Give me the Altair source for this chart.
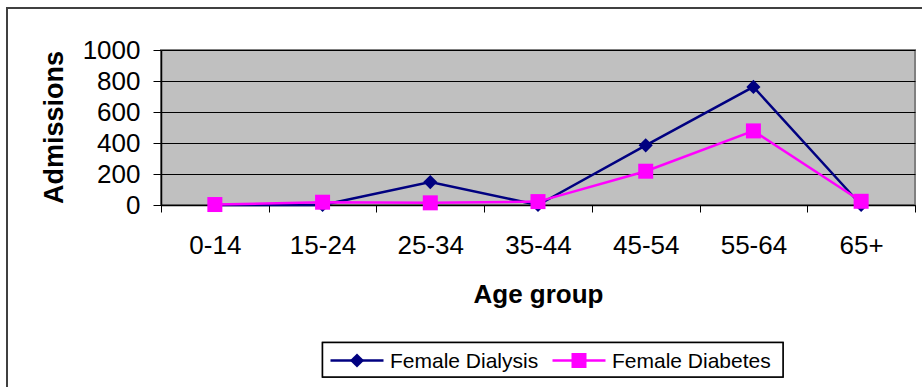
import altair as alt
import pandas as pd

categories = ["0-14", "15-24", "25-34", "35-44", "45-54", "55-64", "65+"]
series_names = ["Female Dialysis", "Female Diabetes"]
dialysis = [0, 0, 148, 0, 385, 762, 0]
diabetes = [3, 18, 14, 22, 218, 478, 24]
y_ticks = [0, 200, 400, 600, 800, 1000]

colors = ["#000080", "#FF00FF"]
shapes = ["diamond", "square"]
FONT = "Liberation Sans"

rows = []
for s, vals in zip(series_names, [dialysis, diabetes]):
    for c, v in zip(categories, vals):
        rows.append({"age": c, "series": s, "value": v})
df = pd.DataFrame(rows)
legend_df = pd.DataFrame({"series": series_names})

color_enc = alt.Color("series:N", scale=alt.Scale(domain=series_names, range=colors), legend=None)

x_enc = alt.X(
    "age:N",
    sort=categories,
    scale=alt.Scale(type="band", domain=categories, paddingInner=0, paddingOuter=0),
    bandPosition=0.5,
    axis=alt.Axis(
        title="Age group",
        tickBand="extent",
        tickSize=7,
        tickColor="black",
        domainColor="black",
        domainWidth=1.5,
        labelAngle=0,
        labelFont=FONT,
        labelFontSize=26,
        labelColor="black",
        labelBaseline="alphabetic",
        labelPadding=41,
        titleFont=FONT,
        titleFontSize=26,
        titleFontWeight="bold",
        titleColor="black",
        titleBaseline="alphabetic",
        titleY=97,
        grid=False,
    ),
)
y_enc = alt.Y(
    "value:Q",
    scale=alt.Scale(domain=[0, 1000], nice=False, zero=True),
    axis=alt.Axis(
        title="Admissions",
        values=y_ticks,
        format="d",
        grid=True,
        gridColor="black",
        gridWidth=1,
        tickSize=8,
        tickColor="black",
        domainColor="black",
        domainWidth=1.5,
        labelFont=FONT,
        labelFontSize=26,
        labelColor="black",
        labelPadding=13,
        titleFont=FONT,
        titleFontSize=27,
        titleFontWeight="bold",
        titleColor="black",
        titleBaseline="alphabetic",
        titleX=-99,
        titleY=77,
    ),
)

outer = alt.Chart(legend_df).mark_rect(
    fill=None, stroke="#404040", strokeWidth=2
).encode(
    x=alt.value(-154), x2=alt.value(775), y=alt.value(-42), y2=alt.value(350)
)

lines = alt.Chart(df).mark_line(strokeWidth=2.5).encode(
    x=x_enc, y=y_enc, color=color_enc, detail="series:N",
)
points = alt.Chart(df).mark_point(filled=True, opacity=1).encode(
    x=x_enc, y=y_enc, color=color_enc,
    shape=alt.Shape("series:N", scale=alt.Scale(domain=series_names, range=shapes), legend=None),
    size=alt.Size("series:N", scale=alt.Scale(domain=series_names, range=[200, 225]), legend=None),
)

leg_x = alt.X(
    "series:N",
    scale=alt.Scale(type="point", domain=series_names, range=[196, 418], padding=0),
    axis=None,
)

leg_box = alt.Chart(legend_df).mark_rect(
    fill="white", stroke="black", strokeWidth=1.5
).encode(
    x=alt.value(161.5), x2=alt.value(622), y=alt.value(292.5), y2=alt.value(327)
)
leg_line = alt.Chart(legend_df).mark_point(
    shape="M-1,0L1,0", size=2809, strokeWidth=2.5, filled=False, opacity=1
).encode(x=leg_x, y=alt.value(310.5), color=color_enc)
leg_mark = alt.Chart(legend_df).mark_point(filled=True, opacity=1).encode(
    x=leg_x, y=alt.value(310.5), color=color_enc,
    shape=alt.Shape("series:N", scale=alt.Scale(domain=series_names, range=shapes), legend=None),
    size=alt.Size("series:N", scale=alt.Scale(domain=series_names, range=[180, 196]), legend=None),
)
leg_text = alt.Chart(legend_df).mark_text(
    align="left", baseline="alphabetic", dx=33, font=FONT, fontSize=21, color="black"
).encode(x=leg_x, y=alt.value(318), text="series:N")

main = alt.layer(lines, points)
legend = alt.layer(leg_box, leg_line, leg_mark, leg_text)

chart = alt.layer(outer, main, legend).resolve_scale(x="independent").properties(
    width=754,
    height=155,
    autosize=alt.AutoSizeParams(type="none"),
    padding={"left": 161, "top": 50, "right": 7, "bottom": 182},
    background="white",
).configure_view(
    fill="#C0C0C0", stroke="#808080", strokeWidth=2
)

chart.save("out.html", embed_options={"renderer": "svg", "actions": False})
